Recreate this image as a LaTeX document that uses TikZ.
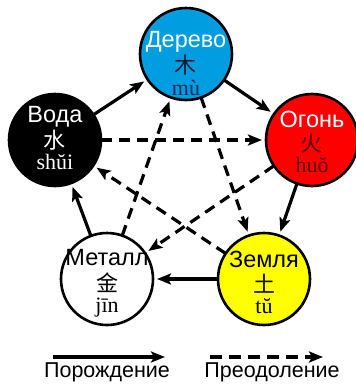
\documentclass[tikz,border=0pt]{standalone}
\usepackage{fontspec}
\setmainfont{Liberation Sans}
\newfontfamily\cjkfont{Noto Sans CJK SC}
\newfontfamily\pyfont{Liberation Serif}
\usetikzlibrary{arrows.meta}

\definecolor{woodblue}{RGB}{0,158,224}
\definecolor{firered}{RGB}{255,0,0}
\definecolor{earthyellow}{RGB}{255,255,0}
\definecolor{woodink}{RGB}{16,24,48}
\definecolor{woodpy}{RGB}{27,42,92}
\definecolor{fireink}{RGB}{90,0,0}

\begin{document}
\begin{tikzpicture}[x=1pt,y=-1pt,
  element/.style={circle, draw=black, line width=2.6pt, minimum size=92pt,
                  inner sep=0pt, outer sep=0pt},
  tip/.style={-{Stealth[length=14pt,width=11pt,inset=3pt]}},
  gen/.style={tip, line width=3.2pt, shorten >=4pt},
  ctrl/.style={gen, dash pattern=on 11pt off 7pt},
  ru/.style={font=\fontsize{23.5}{23.5}\selectfont, anchor=base, inner sep=0pt},
  zh/.style={font=\cjkfont\fontsize{22}{22}\selectfont, inner sep=0pt},
  py/.style={font=\pyfont\fontsize{22}{22}\selectfont, anchor=base, inner sep=0pt},
  legend/.style={font=\fontsize{21.5}{21.5}\selectfont, anchor=base, inner sep=0pt},
]
\useasboundingbox (0,0) rectangle (356,384);

% the five elements
\node[element, fill=woodblue]    (wood)  at (186,54)  {};
\node[element, fill=firered]     (fire)  at (312,140) {};
\node[element, fill=black]       (water) at (55,140)  {};
\node[element, fill=white]       (metal) at (107,279) {};
\node[element, fill=earthyellow] (earth) at (264,279) {};

% names, characters and pinyin
\node[ru, text=white]   (wood-ru) at (186,47) {Дерево};
\node[zh, text=woodink] (wood-zh) at (186,65) {木};
\node[py, text=woodpy]  (wood-py) at (186,95) {mù};

\node[ru, text=white]   (fire-ru) at (312,127) {Огонь};
\node[zh, text=fireink] (fire-zh) at (312,143) {火};
\node[py, text=fireink] (fire-py) at (312,172) {huŏ};

\node[ru, text=white] (water-ru) at (55,122) {Вода};
\node[zh, text=white] (water-zh) at (55,140) {水};
\node[py, text=white] (water-py) at (55,169) {shŭi};

\node[ru] (metal-ru) at (107,265) {Металл};
\node[zh] (metal-zh) at (107,283) {金};
\node[py] (metal-py) at (107,312) {jīn};

\node[ru] (earth-ru) at (264,267) {Земля};
\node[zh] (earth-zh) at (264,284) {土};
\node[py] (earth-py) at (264,313) {tŭ};

% generating cycle
\draw[gen] (water) -- (wood);
\draw[gen] (wood)  -- (fire);
\draw[gen] (fire)  -- (earth);
\draw[gen] (earth) -- (metal);
\draw[gen] (metal) -- (water);

% overcoming cycle
\draw[ctrl] (water) -- (fire);
\draw[ctrl] (fire)  -- (metal);
\draw[ctrl] (metal) -- (wood);
\draw[ctrl] (wood)  -- (earth);
\draw[ctrl] (earth) -- (water);

% legend
\coordinate (gen-a)  at (53,357);
\coordinate (gen-b)  at (165,357);
\coordinate (ctrl-a) at (210,357);
\coordinate (ctrl-b) at (323,357);
\draw[tip, line width=4pt] (gen-a) -- (gen-b);
\draw[tip, line width=4pt, dash pattern=on 12pt off 7pt] (ctrl-a) -- (ctrl-b);
\node[legend] (gen-label)  at (107,377) {Порождение};
\node[legend] (ctrl-label) at (272,377) {Преодоление};
\end{tikzpicture}
\end{document}
